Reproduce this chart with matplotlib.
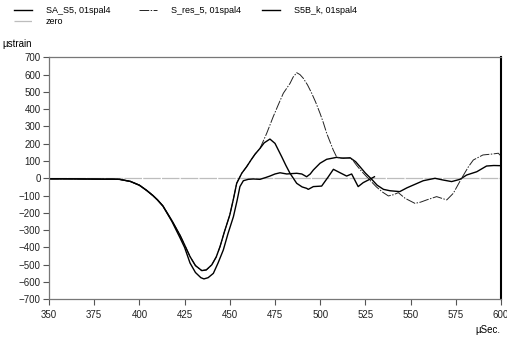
import matplotlib
matplotlib.use("Agg")
import matplotlib.pyplot as plt

plt.rcParams['font.family'] = ['Liberation Sans', 'DejaVu Sans']

# SA_S5, 01spal4 (solid, deeper dip, runs to 600)
sa_x = [350, 360, 370, 380, 385, 389, 395, 400, 404, 407.5, 410, 413, 418, 422.5, 425, 428, 431, 434,
        435.7, 438, 440.9, 443.5, 446.4, 449, 452, 454, 455.6, 457.5, 460.2, 463, 466.7, 470, 472.2, 475,
        477.8, 481.5, 484, 487, 489.8, 492.5, 494.5, 496.2, 499.9, 503.6, 509, 512.8, 516.5, 519.6, 522,
        525, 528.5, 531.5, 535, 538.6, 544, 548, 551.5, 557, 563.5, 568, 572.7, 577.3, 581, 586.6, 592,
        596, 600]
sa_y = [-3, -3, -4, -5, -5, -6, -18, -40, -70, -100, -125, -160, -250, -345, -400, -490, -545, -575,
        -582, -575, -550, -490, -415, -320, -222, -130, -48, -14, -6, -4, -6, 5, 13, 25,
        32, 25, 27, 29, 25, 9, 25, 48, 87, 110, 121, 116, 119, 96, 67,
        30, -6, -40, -64, -72, -77, -55, -39, -14, 0, -10, -19, -6, 19, 38, 71,
        74, 73]

# S5B_k, 01spal4 (solid, shallower dip, ends near 530)
sb_x = [350, 360, 370, 380, 385, 389, 395, 400, 404, 407.5, 410, 413, 418, 422.5, 425, 428, 431, 434.5,
        437, 440, 442.5, 444.6, 447, 450, 452, 453.8, 456.6, 459.3, 462, 464, 466.7, 469, 472.2, 475,
        478.7, 481, 483.3, 487, 490, 492.5, 493.4, 496.2, 500.8, 504.5, 507.3, 511, 514.6, 517.4, 521,
        523.8, 526.6, 530]
sb_y = [-3, -3, -4, -5, -5, -6, -18, -40, -70, -100, -125, -160, -245, -330, -385, -453, -505, -534,
        -530, -501, -455, -395, -310, -212, -120, -29, 29, 67, 110, 140, 173, 205, 227, 202,
        125, 75, 29, -29, -50, -58, -64, -48, -45, 9, 52, 32, 13, 25, -48,
        -25, -10, 9]

# S_res_5, 01spal4 (dash-dot)
sr_x = [350, 360, 370, 380, 385, 389, 395, 400, 404, 407.5, 410, 413, 418, 422.5, 425, 428, 431, 434.5,
        437, 440, 442.5, 444.6, 447, 450, 452, 453.8, 456.6, 459.3, 462, 464, 466.7, 470.4, 474, 476.8,
        479.6, 483.3, 485, 487, 488.8, 490.7, 493, 495.3, 497.5, 499.9, 501.8, 503.6, 505.4, 507.2, 509,
        511, 513, 516.5, 518, 520, 522.5, 525.7, 531, 534.5, 537.7, 540.5, 543.2, 547, 552.4, 555.5,
        558.9, 564.4, 567, 570, 573.6, 578.2, 582, 584.7, 590, 595.7, 598.5, 600]
sr_y = [-3, -3, -4, -5, -5, -6, -18, -40, -70, -100, -125, -160, -245, -330, -385, -453, -505, -534,
        -530, -501, -455, -395, -310, -212, -120, -29, 29, 67, 110, 140, 173, 260, 356, 425,
        492, 549, 585, 611, 600, 578, 540, 492, 440, 376, 320, 260, 212, 164, 125,
        116, 118, 116, 105, 77, 45, 9, -49, -80, -102, -95, -83, -116, -145, -138,
        -125, -106, -115, -125, -87, 0, 67, 106, 135, 141, 145, 129]

zero_x = [350, 600]
zero_y = [0, 0]

xticks = [350, 375, 400, 425, 450, 475, 500, 525, 550, 575, 600]
yticks = list(range(-700, 701, 100))

fig = plt.figure(figsize=(5.07, 3.39), dpi=100)
ax = fig.add_axes([49/507, 1 - 299.3/339, 452/507, 242/339])

h_zero, = ax.plot(zero_x, zero_y, color='#bdbdbd', lw=0.9, dashes=(14, 1))
h_sa, = ax.plot(sa_x, sa_y, color='black', lw=1.0)
h_sr, = ax.plot(sr_x, sr_y, color='#222222', lw=0.7, dashes=(10, 1.5, 1.5, 1.5))
h_sb, = ax.plot(sb_x, sb_y, color='black', lw=1.0)

ax.set_xlim(350, 600)
ax.set_ylim(-700, 700)
ax.set_xticks(xticks)
ax.set_yticks(yticks)
ax.tick_params(labelsize=7, colors='#555555', labelcolor='#222222', length=4, width=0.8, pad=2)
ax.tick_params(axis='x', pad=4)
for s in ['left', 'bottom', 'top']:
    ax.spines[s].set_color('#777777')
    ax.spines[s].set_linewidth(0.9)
ax.spines['right'].set_color('black')
ax.spines['right'].set_linewidth(1.5)

fig.text(2/507, 1 - 47/339, 'µstrain', fontsize=7, ha='left', va='baseline')
fig.text(500/507, 1 - 333/339, 'µSec.', fontsize=7, ha='right', va='baseline')

kw = dict(frameon=False, fontsize=6.5, loc='upper left', borderpad=0, borderaxespad=0,
          handlelength=2.0, handletextpad=1.5, labelspacing=0.25)
fig.legend([h_sa, h_zero], ['SA_S5, 01spal4', 'zero'], bbox_to_anchor=(14/507, 1 - 6/339), **kw)
fig.legend([h_sr], ['S_res_5, 01spal4'], bbox_to_anchor=(139/507, 1 - 6/339), **kw)
fig.legend([h_sb], ['S5B_k, 01spal4'], bbox_to_anchor=(262/507, 1 - 6/339), **kw)

fig.savefig('out.png', dpi=100)
